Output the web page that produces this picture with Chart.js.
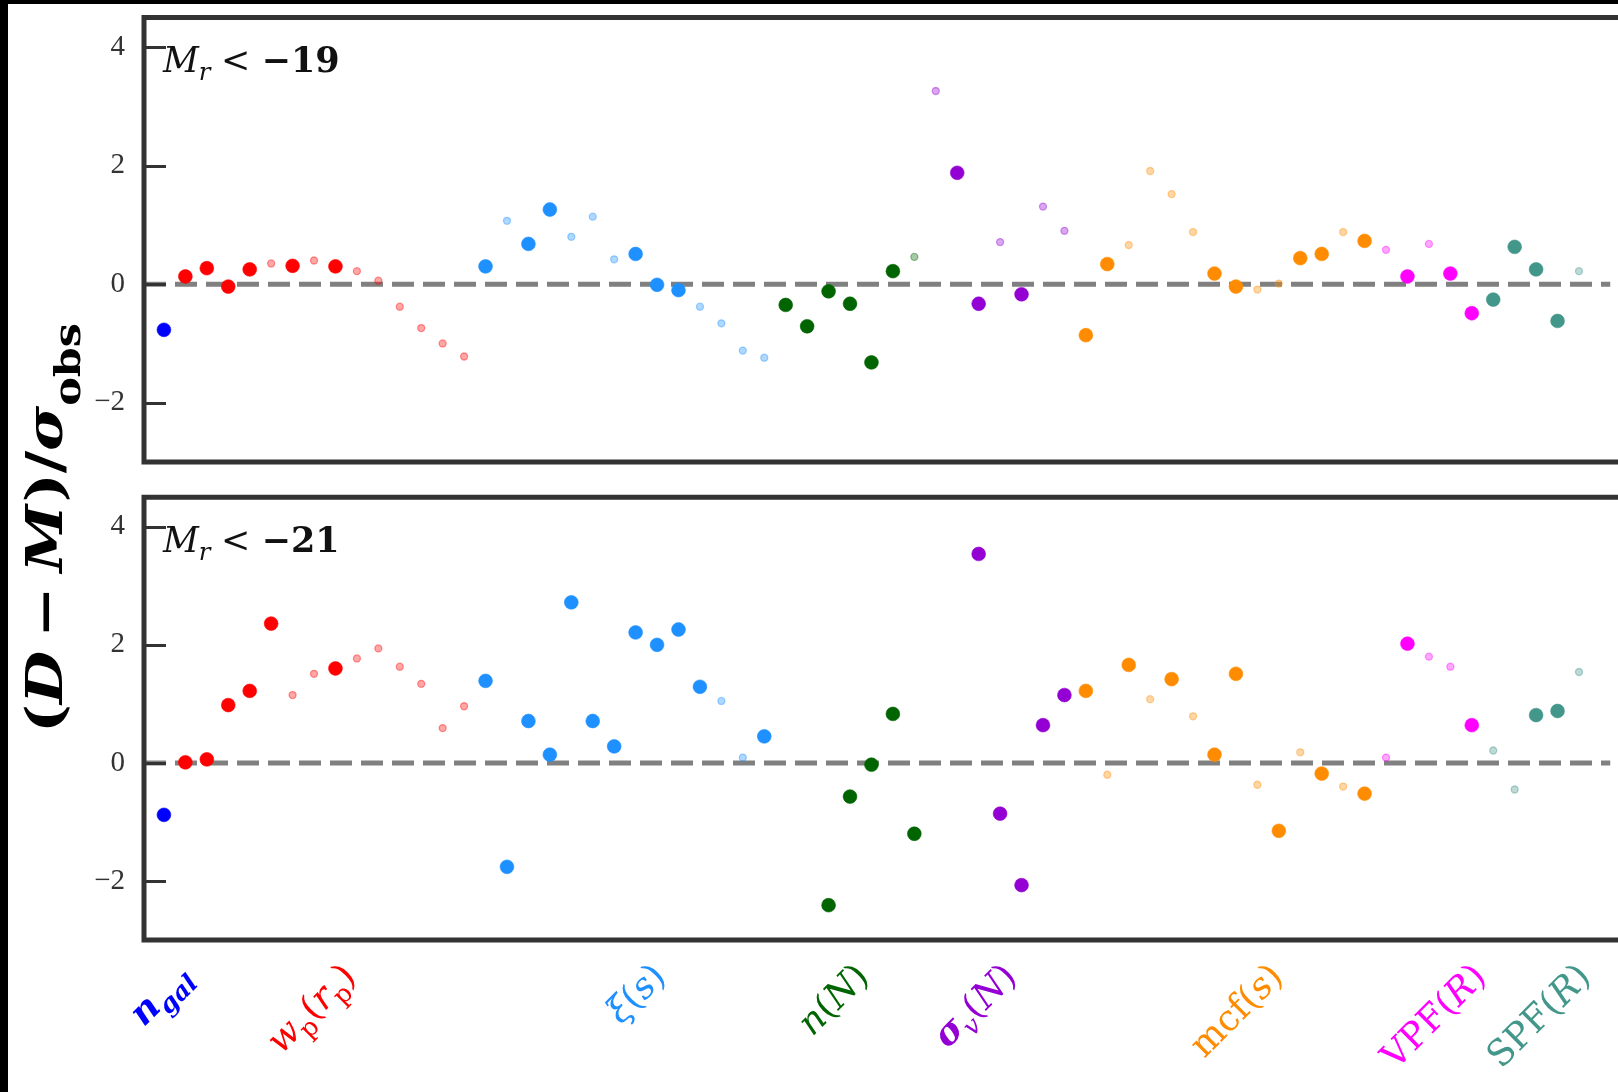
<!DOCTYPE html>
<html><head><meta charset="utf-8">
<script src="https://cdn.jsdelivr.net/npm/chart.js@4.4.1/dist/chart.umd.min.js"></script>
<style>
html,body{margin:0;padding:0;background:#fff;width:1618px;height:1092px;overflow:hidden;position:relative}
canvas{position:absolute;left:0;top:0}
#bt{position:absolute;left:0;top:0;width:1618px;height:4px;background:#000;z-index:5}
#bl{position:absolute;left:0;top:0;width:8px;height:1092px;background:#000;z-index:5}
</style></head><body>
<canvas id="c1" width="1618" height="1092"></canvas>
<canvas id="c2" width="1618" height="1092"></canvas>
<div id="bt"></div><div id="bl"></div>
<script>
// ---------------- data ----------------
const categories = ['n_gal', 'w_p(r_p)', 'ξ(s)', 'n(N)', 'σ_v(N)', 'mcf(s)', 'VPF(R)', 'SPF(R)'];
const categoryTicks = [-0.1, 6.95, 22.1, 31.3, 37.9, 50.1, 59.3, 64.2];
const yTicks = [-2, 0, 2, 4];
const panelCuts = ['−19', '−21'];

// M_r < -19
const ngal_19 = [-0.77];
const wp_19 = [0.13, 0.27, -0.04, 0.25, 0.35, 0.31, 0.40, 0.30, 0.22, 0.06, -0.38, -0.74, -1.00, -1.22];
const xi_19 = [0.30, 1.07, 0.68, 1.26, 0.80, 1.14, 0.42, 0.51, -0.01, -0.10, -0.38, -0.66, -1.12, -1.24];
const nN_19 = [-0.35, -0.71, -0.12, -0.33, -1.32, 0.22, 0.46];
const sigv_19 = [3.26, 1.88, -0.33, 0.71, -0.17, 1.31, 0.90];
const mcf_19 = [-0.86, 0.34, 0.66, 1.91, 1.52, 0.88, 0.18, -0.04, -0.09, 0.01, 0.44, 0.51, 0.88, 0.73];
const vpf_19 = [0.58, 0.13, 0.68, 0.18, -0.49];
const spf_19 = [-0.26, 0.63, 0.25, -0.62, 0.22];
// 1 = drawn faint (not used)
const ngal_19_faint = [0];
const wp_19_faint = [0,0,0,0,1,0,1,0,1,1,1,1,1,1];
const xi_19_faint = [0,1,0,0,1,1,1,0,0,0,1,1,1,1];
const nN_19_faint = [0,0,0,0,0,0,1];
const sigv_19_faint = [1,0,0,1,0,1,1];
const mcf_19_faint = [0,0,1,1,1,1,0,0,1,1,0,0,1,0];
const vpf_19_faint = [1,0,1,0,0];
const spf_19_faint = [0,0,0,0,1];

// M_r < -21
const ngal_21 = [-0.88];
const wp_21 = [0.01, 0.06, 0.98, 1.22, 2.36, 1.15, 1.51, 1.60, 1.77, 1.94, 1.63, 1.34, 0.59, 0.96];
const xi_21 = [1.39, -1.76, 0.71, 0.14, 2.72, 0.71, 0.28, 2.21, 2.00, 2.26, 1.29, 1.05, 0.09, 0.45];
const nN_21 = [null, null, -2.41, -0.57, -0.03, 0.83, -1.20];
const sigv_21 = [null, null, 3.54, -0.86, -2.07, 0.64, 1.15];
const mcf_21 = [1.22, -0.20, 1.66, 1.08, 1.42, 0.79, 0.14, 1.51, -0.37, -1.15, 0.18, -0.18, -0.40, -0.52];
const vpf_21 = [0.09, 2.02, 1.80, 1.63, 0.64];
const spf_21 = [0.21, -0.45, 0.81, 0.88, 1.54];
const ngal_21_faint = [0];
const wp_21_faint = [0,0,0,0,0,1,1,0,1,1,1,1,1,1];
const xi_21_faint = [0,0,0,0,0,0,0,0,0,0,0,1,1,0];
const nN_21_faint = [0,0,0,0,0,0,0];
const sigv_21_faint = [0,0,0,0,0,0,0];
const mcf_21_faint = [0,1,0,1,0,1,0,0,1,0,1,0,1,0];
const vpf_21_faint = [1,0,1,1,0];
const spf_21_faint = [1,1,0,0,1];

// ---------------- styles ----------------
const categoryColors = ['#0000ff', '#ff0000', '#1e90ff', '#006400', '#9400d3', '#ff8c00', '#ff00ff', '#42968a'];
const X_MIN = -0.93, X_MAX = 67.47, Y_MIN = -3, Y_MAX = 4.5;
const SERIF = 'DejaVu Serif';

function rgba(hex, a) {
  const n = parseInt(hex.slice(1), 16);
  return `rgba(${(n >> 16) & 255},${(n >> 8) & 255},${n & 255},${a})`;
}

function buildDatasets(values, faints) {
  let offset = 0;
  const ds = [];
  values.forEach((vals, g) => {
    const pts = [];
    vals.forEach((v, k) => { if (v !== null) pts.push({x: offset + k, y: v, f: faints[g][k]}); });
    offset += vals.length;
    const col = categoryColors[g];
    ds.push({
      type: 'scatter', data: pts, order: 1, showLine: false,
      pointRadius: c => (c.raw && c.raw.f) ? 3.5 : 6.9,
      pointHoverRadius: c => (c.raw && c.raw.f) ? 3.5 : 6.9,
      pointBackgroundColor: c => (c.raw && c.raw.f) ? rgba(col, 0.35) : col,
      pointBorderColor: c => (c.raw && c.raw.f) ? rgba(col, 0.4) : col,
      pointBorderWidth: c => (c.raw && c.raw.f) ? 1.3 : 0.6
    });
  });
  ds.push({
    type: 'line', data: [{x: X_MIN, y: 0}, {x: X_MAX, y: 0}], order: 5,
    borderColor: '#808080', borderWidth: 5, borderDash: [22, 9], pointRadius: 0, fill: false
  });
  return ds;
}

// rich text helpers
function segFont(s, size) {
  return `${s.i ? 'italic ' : ''}${s.b ? 'bold ' : ''}${s.sub ? size * 0.7 : size}px "${SERIF}"`;
}
function richWidth(ctx, segs, size) {
  let w = 0;
  segs.forEach(s => { ctx.font = segFont(s, size); w += ctx.measureText(s.t).width + (s.gap || 0) * size; });
  return w;
}
function drawRich(ctx, segs, size, color, subShift) {
  let x = 0;
  ctx.fillStyle = color;
  segs.forEach(s => {
    ctx.font = segFont(s, size);
    ctx.fillText(s.t, x, s.sub ? size * subShift : 0);
    x += ctx.measureText(s.t).width + (s.gap || 0) * size;
  });
}

const labelSegs = [
  [{t:'n',i:1,b:1},{t:'gal',i:1,b:1,sub:1}],
  [{t:'w',i:1},{t:'p',sub:1},{t:'('},{t:'r',i:1},{t:'p',sub:1},{t:')'}],
  [{t:'ξ',i:1},{t:'('},{t:'s',i:1},{t:')'}],
  [{t:'n',i:1},{t:'('},{t:'N',i:1},{t:')'}],
  [{t:'σ',i:1,b:1},{t:'v',i:1,sub:1},{t:'('},{t:'N',i:1},{t:')'}],
  [{t:'mcf'},{t:'('},{t:'s',i:1},{t:')'}],
  [{t:'VPF'},{t:'('},{t:'R',i:1},{t:')'}],
  [{t:'SPF'},{t:'('},{t:'R',i:1},{t:')'}]
];

const framePlugin = {
  id: 'frame',
  afterDraw(chart, args, opts) {
    const {ctx, chartArea: a} = chart;
    const y = chart.scales.y, x = chart.scales.x;
    ctx.save();
    ctx.strokeStyle = '#333333';
    ctx.lineWidth = 5;
    ctx.lineJoin = 'miter';
    ctx.beginPath();
    ctx.moveTo(a.right + 20, a.top); ctx.lineTo(a.left, a.top);
    ctx.lineTo(a.left, a.bottom); ctx.lineTo(a.right + 20, a.bottom);
    ctx.stroke();
    ctx.lineWidth = 3;
    y.ticks.forEach(t => {
      const py = Math.round(y.getPixelForValue(t.value)) + 0.5;
      ctx.beginPath(); ctx.moveTo(a.left, py); ctx.lineTo(a.left + 22, py); ctx.stroke();
    });
    // panel label
    const segs = [{t:'M',i:1},{t:'r',i:1,sub:1,gap:0.3},{t:'<',gap:0.32},{t:opts.cut,b:1}];
    ctx.translate(a.left + 19, a.top + 54.5);
    drawRich(ctx, segs, 35, '#111', 0.24);
    ctx.restore();

    if (opts.yTitle) {
      ctx.save();
      const segsT = [{t:'(',b:1},{t:'D',b:1,i:1,gap:0.22},{t:'−',b:1,gap:0.22},{t:'M',b:1,i:1,gap:0.04},
        {t:')',b:1},{t:'/',b:1},{t:'σ',b:1,i:1},{t:'obs',b:1,sub:1}];
      const size = 50;
      const w = richWidth(ctx, segsT, size);
      ctx.translate(62, 733);
      ctx.rotate(-Math.PI / 2);
      ctx.scale(410 / w, 1);
      drawRich(ctx, segsT, size, '#000', 0.36);
      ctx.restore();
    }
    if (opts.cats) {
      const size = 36;
      categories.forEach((name, k) => {
        const segs = labelSegs[k];
        ctx.save();
        const w = richWidth(ctx, segs, size);
        const asc = 0.76 * size, desc = 0.25 * size;
        const half = (w + asc + desc) / 2 * Math.SQRT1_2;
        const cx = x.getPixelForValue(categoryTicks[k]);
        const cy = a.bottom + 19 + half;
        ctx.translate(cx, cy);
        ctx.rotate(-Math.PI / 4);
        ctx.translate(-w / 2, (asc - desc) / 2);
        drawRich(ctx, segs, size, categoryColors[k], 0.25);
        ctx.restore();
      });
    }
  }
};

function makeOptions(padTop, padBottom, frameOpts) {
  return {
    responsive: false, animation: false, devicePixelRatio: 1,
    layout: {padding: {top: padTop, bottom: padBottom, left: 0, right: 0}},
    plugins: {legend: {display: false}, tooltip: {enabled: false}, frame: frameOpts},
    events: [],
    scales: {
      x: {type: 'linear', min: X_MIN, max: X_MAX, display: false},
      y: {
        type: 'linear', min: Y_MIN, max: Y_MAX,
        afterBuildTicks: s => { s.ticks = yTicks.map(v => ({value: v})); },
        afterFit: s => { s.width = 144; s.paddingTop = 0; s.paddingBottom = 0; },
        grid: {display: false, drawTicks: false}, border: {display: false},
        ticks: {
          padding: 19, color: '#333333',
          font: {family: 'Liberation Serif', size: 29},
          callback: v => (v < 0 ? '\u2212' : '') + Math.abs(v)
        }
      }
    }
  };
}

new Chart(document.getElementById('c1'), {
  type: 'scatter',
  data: {datasets: buildDatasets(
    [ngal_19, wp_19, xi_19, nN_19, sigv_19, mcf_19, vpf_19, spf_19],
    [ngal_19_faint, wp_19_faint, xi_19_faint, nN_19_faint, sigv_19_faint, mcf_19_faint, vpf_19_faint, spf_19_faint])},
  options: makeOptions(17.5, 630, {cut: panelCuts[0], yTitle: true, cats: false}),
  plugins: [framePlugin]
});
new Chart(document.getElementById('c2'), {
  type: 'scatter',
  data: {datasets: buildDatasets(
    [ngal_21, wp_21, xi_21, nN_21, sigv_21, mcf_21, vpf_21, spf_21],
    [ngal_21_faint, wp_21_faint, xi_21_faint, nN_21_faint, sigv_21_faint, mcf_21_faint, vpf_21_faint, spf_21_faint])},
  options: makeOptions(497.3, 152, {cut: panelCuts[1], yTitle: false, cats: true}),
  plugins: [framePlugin]
});
</script>
</body></html>
